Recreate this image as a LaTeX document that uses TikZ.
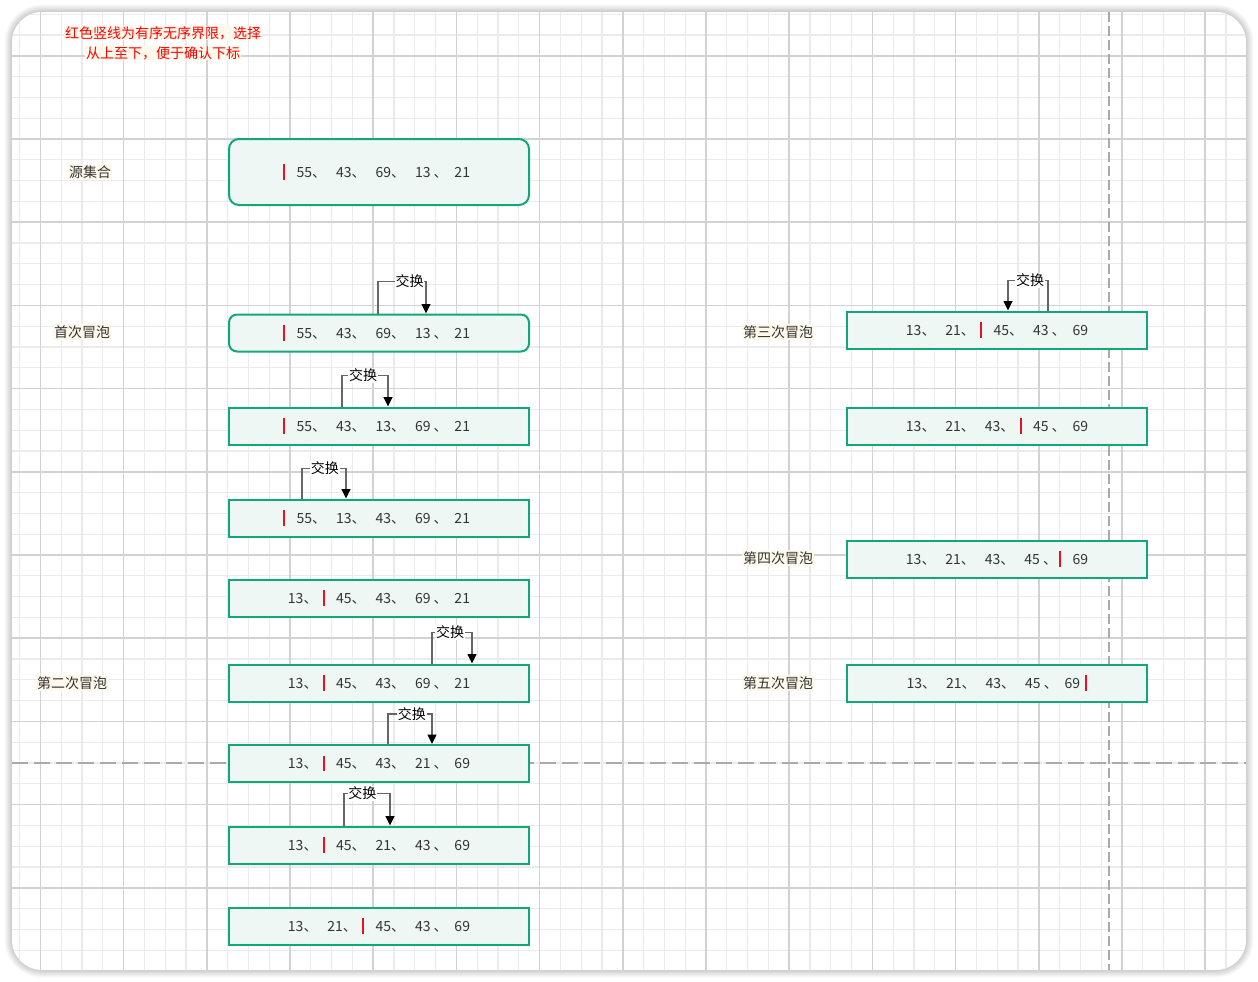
\documentclass[tikz,border=0pt]{standalone}
\usepackage{fontspec}
\setmainfont{Noto Sans CJK SC}
\usetikzlibrary{arrows.meta}
\usetikzlibrary{calc}

\definecolor{boxgreen}{RGB}{16,168,122}
\definecolor{boxfill}{RGB}{239,247,244}
\definecolor{numgray}{RGB}{51,51,51}
\definecolor{barred}{RGB}{232,17,35}
\definecolor{cream}{RGB}{255,249,236}
\definecolor{minorgrid}{RGB}{235,235,235}
\definecolor{majorgrid}{RGB}{210,210,210}
\definecolor{dashgray}{RGB}{170,170,170}

\newcommand\tk[1]{\makebox[29.6pt][l]{#1}}
\newcommand\rbar{\textcolor{barred}{\rule[-2pt]{1.4pt}{11.5pt}}}
\newcommand\rb{\hspace{-3.5pt}\makebox[10pt][l]{\rbar}}
\newcommand\hl[1]{\colorbox{cream}{#1}}

\begin{document}
\begin{tikzpicture}[x=0.75pt,y=-0.75pt,
  numbox/.style={draw=boxgreen,fill=boxfill,line width=1.5pt,minimum width=225pt,minimum height=27.75pt,inner sep=0pt,text=numgray,font=\fontsize{10.5pt}{12pt}\selectfont},
  stage/.style={fill=cream,inner sep=1pt,text=numgray,font=\fontsize{10.5pt}{12pt}\selectfont},
  swapline/.style={draw=black!60,line width=1.1pt,-{Triangle[length=7pt,width=6.5pt,color=black]}},
  swaplabel/.style={fill=white,inner sep=0.6pt,text=black,font=\fontsize{10.5pt}{12pt}\selectfont}]
\useasboundingbox (0,0) rectangle (1258,982);
\fill[white] (0,0) rectangle (1258,982);
% shadow of the sheet
\foreach \w in {1,...,8} \draw[black,opacity=0.025,line width=\w*1.4pt,rounded corners=22.5pt] (12,12) rectangle (1246,970);
\begin{scope}
\clip[rounded corners=22.5pt] (12,12) rectangle (1246,970);
\fill[white] (12,12) rectangle (1246,970);
\foreach \k in {-1,...,58} \draw[minorgrid,line width=0.9pt] ({40.4+20.8*\k},12) -- ({40.4+20.8*\k},970);
\foreach \k in {-2,...,44} \draw[minorgrid,line width=0.9pt] (12,{55.8+20.8*\k}) -- (1246,{55.8+20.8*\k});
\foreach \k in {0,...,14} \draw[majorgrid,line width=1.1pt] ({40.4+83.2*\k},12) -- ({40.4+83.2*\k},970);
\foreach \k in {0,...,11} \draw[majorgrid,line width=1.1pt] (12,{55.8+83.2*\k}) -- (1246,{55.8+83.2*\k});
\draw[dashgray,line width=1.5pt,dash pattern=on 7.5pt off 3pt] (1109,12) -- (1109,970);
\draw[dashgray,line width=1.5pt,dash pattern=on 12pt off 4.5pt] (12,763) -- (1246,763);
\end{scope}

\node[align=center,text=red,inner sep=0pt,font=\fontsize{10.5pt}{15pt}\selectfont] (note) at (163,43) {\setlength{\fboxsep}{0.6pt}\hl{红色竖线为有序无序界限，选择}\\\setlength{\fboxsep}{0.6pt}\hl{从上至下，便于确认下标}};

\node[stage] (src) at (90,172) {源集合};
\node[stage] (pass1) at (82,332) {首次冒泡};
\node[stage] (pass2) at (72,683) {第二次冒泡};
\node[stage] (pass3) at (778,332) {第三次冒泡};
\node[stage] (pass4) at (778,558) {第四次冒泡};
\node[stage] (pass5) at (778,683) {第五次冒泡};

\node[numbox,rounded corners=7.5pt,minimum height=49.5pt] (b1) at (379,172) {\rb\tk{55、}\tk{43、}\tk{69、}\tk{13 、}21};
\node[numbox,rounded corners=6pt] (b2) at (379,333) {\rb\tk{55、}\tk{43、}\tk{69、}\tk{13 、}21};
\node[numbox] (b3) at (379,426) {\rb\tk{55、}\tk{43、}\tk{13、}\tk{69 、}21};
\node[numbox] (b4) at (379,518) {\rb\tk{55、}\tk{13、}\tk{43、}\tk{69 、}21};
\node[numbox] (b5) at (379,598) {\tk{13、}\rb\tk{45、}\tk{43、}\tk{69 、}21};
\node[numbox] (b6) at (379,683) {\tk{13、}\rb\tk{45、}\tk{43、}\tk{69 、}21};
\node[numbox] (b7) at (379,763.5) {\tk{13、}\rb\tk{45、}\tk{43、}\tk{21 、}69};
\node[numbox] (b8) at (379,845) {\tk{13、}\rb\tk{45、}\tk{21、}\tk{43 、}69};
\node[numbox] (b9) at (379,926) {\tk{13、}\tk{21、}\rb\tk{45、}\tk{43 、}69};

\node[numbox] (r1) at (997,330) {\tk{13、}\tk{21、}\rb\tk{45、}\tk{43 、}69};
\node[numbox] (r2) at (997,426) {\tk{13、}\tk{21、}\tk{43、}\rb\tk{45 、}69};
\node[numbox] (r3) at (997,559) {\tk{13、}\tk{21、}\tk{43、}\tk{45 、}\rb 69};
\node[numbox] (r4) at (997,683) {\tk{13、}\tk{21、}\tk{43、}\tk{45 、}69\hspace{4pt}\rbar};

% swaps
\draw[swapline] ($(b2.north west)+(150,0)$) -- ++(0,-32) -| node[swaplabel,pos=0.33] {交换} ($(b2.north west)+(198,0)$);
\draw[swapline] ($(b3.north west)+(114,0)$) -- ++(0,-31) -| node[swaplabel,pos=0.23] {交换} ($(b3.north west)+(160,0)$);
\draw[swapline] ($(b4.north west)+(74,0)$) -- ++(0,-30) -| node[swaplabel,pos=0.26] {交换} ($(b4.north west)+(118,0)$);
\draw[swapline] ($(b6.north west)+(204,0)$) -- ++(0,-31) -| node[swaplabel,pos=0.225] {交换} ($(b6.north west)+(244,0)$);
\draw[swapline] ($(b7.north west)+(160,0)$) -- ++(0,-30) -| node[swaplabel,pos=0.27] {交换} ($(b7.north west)+(204,0)$);
\draw[swapline] ($(b8.north west)+(116,0)$) -- ++(0,-32) -| node[swaplabel,pos=0.2] {交换} ($(b8.north west)+(162,0)$);
\draw[swapline] ($(r1.north west)+(202,0)$) -- ++(0,-30) -| node[swaplabel,pos=0.225] {交换} ($(r1.north west)+(162,0)$);
\end{tikzpicture}
\end{document}
